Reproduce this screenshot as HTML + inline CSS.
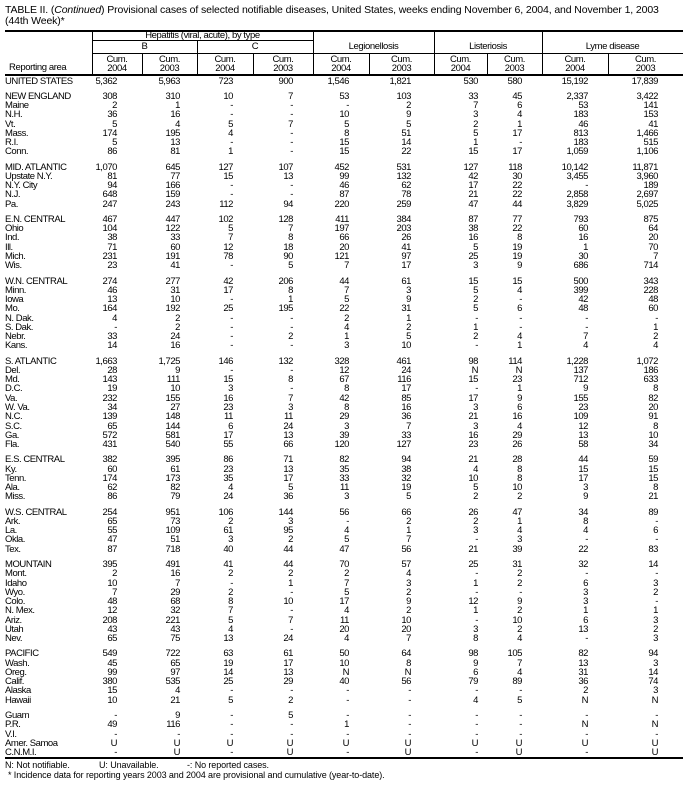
<!DOCTYPE html>
<html><head><meta charset="utf-8">
<style>
*{margin:0;padding:0;box-sizing:border-box}
body{width:695px;height:786px;background:#fff;position:relative;overflow:hidden;font-family:"Liberation Sans",Arial,sans-serif;color:#000}
.t{position:absolute;left:5px;font-size:10.5px;letter-spacing:-0.12px;white-space:nowrap;line-height:11px}
.hl{position:absolute;background:#000}
.h{position:absolute;font-size:9.5px;letter-spacing:-0.4px;text-align:center;line-height:8.5px;white-space:nowrap}
table{position:absolute;left:5px;top:76.5px;border-collapse:collapse;table-layout:fixed;font-size:9.5px;letter-spacing:-0.45px}
td{height:9.26px;line-height:9.26px;padding:0;text-align:right;white-space:nowrap;overflow:visible}
td:first-child{text-align:left;padding-left:0}
tr.s td{height:6px;line-height:6px}
col.c0{width:87px}
td:nth-child(2){padding-right:25px}
td:nth-child(3){padding-right:17px}
td:nth-child(4){padding-right:20px}
td:nth-child(5){padding-right:20px}
td:nth-child(6){padding-right:20px}
td:nth-child(7){padding-right:23px}
td:nth-child(8){padding-right:9px}
td:nth-child(9){padding-right:20px}
td:nth-child(10){padding-right:20px}
td:nth-child(11){padding-right:25px}
.f{position:absolute;font-size:9px;letter-spacing:-0.1px;white-space:nowrap;line-height:9px}
</style></head><body>
<div class="t" style="top:5px">TABLE II. (<i>Continued</i>) Provisional cases of selected notifiable diseases, United States, weeks ending November 6, 2004, and November 1, 2003</div>
<div class="t" style="top:16px">(44th Week)*</div>

<div class="hl" style="left:5px;top:30px;width:678px;height:2px"></div>
<div class="hl" style="left:92px;top:39.5px;width:221px;height:1px"></div>
<div class="hl" style="left:92px;top:52.5px;width:591px;height:1px"></div>
<div class="hl" style="left:5px;top:74px;width:678px;height:2px"></div>
<div class="hl" style="left:91.5px;top:31px;width:1.5px;height:44px"></div>
<div class="hl" style="left:312.5px;top:31px;width:1.5px;height:44px"></div>
<div class="hl" style="left:433.5px;top:31px;width:1.5px;height:44px"></div>
<div class="hl" style="left:541.5px;top:31px;width:1.5px;height:44px"></div>
<div class="hl" style="left:196.5px;top:40px;width:1.5px;height:35px"></div>
<div class="hl" style="left:141.5px;top:53px;width:1.5px;height:22px"></div>
<div class="hl" style="left:252.5px;top:53px;width:1.5px;height:22px"></div>
<div class="hl" style="left:368.5px;top:53px;width:1.5px;height:22px"></div>
<div class="hl" style="left:486.5px;top:53px;width:1.5px;height:22px"></div>
<div class="hl" style="left:607.5px;top:53px;width:1.5px;height:22px"></div>

<div class="h" style="left:92px;width:221px;top:31.5px">Hepatitis (viral, acute), by type</div>
<div class="h" style="left:92px;width:105px;top:43px">B</div>
<div class="h" style="left:197px;width:116px;top:43px">C</div>
<div class="h" style="left:313px;width:121px;top:43px">Legionellosis</div>
<div class="h" style="left:434px;width:108px;top:43px">Listeriosis</div>
<div class="h" style="left:542px;width:141px;top:43px">Lyme disease</div>
<div class="h" style="left:9px;top:64px;text-align:left">Reporting area</div>
<div class="h" style="left:92px;width:50px;top:56px">Cum.<br>2004</div>
<div class="h" style="left:142px;width:55px;top:56px">Cum.<br>2003</div>
<div class="h" style="left:197px;width:56px;top:56px">Cum.<br>2004</div>
<div class="h" style="left:253px;width:60px;top:56px">Cum.<br>2003</div>
<div class="h" style="left:313px;width:56px;top:56px">Cum.<br>2004</div>
<div class="h" style="left:369px;width:65px;top:56px">Cum.<br>2003</div>
<div class="h" style="left:434px;width:53px;top:56px">Cum.<br>2004</div>
<div class="h" style="left:487px;width:55px;top:56px">Cum.<br>2003</div>
<div class="h" style="left:542px;width:66px;top:56px">Cum.<br>2004</div>
<div class="h" style="left:608px;width:75px;top:56px">Cum.<br>2003</div>

<table>
<colgroup><col class="c0"><col style="width:50px"><col style="width:55px"><col style="width:56px"><col style="width:60px"><col style="width:56px"><col style="width:65px"><col style="width:53px"><col style="width:55px"><col style="width:66px"><col style="width:75px"></colgroup>
<tr><td>UNITED STATES<td>5,362<td>5,963<td>723<td>900<td>1,546<td>1,821<td>530<td>580<td>15,192<td>17,839</tr>
<tr class="s"><td colspan="11"></tr>
<tr><td>NEW ENGLAND<td>308<td>310<td>10<td>7<td>53<td>103<td>33<td>45<td>2,337<td>3,422</tr>
<tr><td>Maine<td>2<td>1<td>-<td>-<td>-<td>2<td>7<td>6<td>53<td>141</tr>
<tr><td>N.H.<td>36<td>16<td>-<td>-<td>10<td>9<td>3<td>4<td>183<td>153</tr>
<tr><td>Vt.<td>5<td>4<td>5<td>7<td>5<td>5<td>2<td>1<td>46<td>41</tr>
<tr><td>Mass.<td>174<td>195<td>4<td>-<td>8<td>51<td>5<td>17<td>813<td>1,466</tr>
<tr><td>R.I.<td>5<td>13<td>-<td>-<td>15<td>14<td>1<td>-<td>183<td>515</tr>
<tr><td>Conn.<td>86<td>81<td>1<td>-<td>15<td>22<td>15<td>17<td>1,059<td>1,106</tr>
<tr class="s"><td colspan="11"></tr>
<tr><td>MID. ATLANTIC<td>1,070<td>645<td>127<td>107<td>452<td>531<td>127<td>118<td>10,142<td>11,871</tr>
<tr><td>Upstate N.Y.<td>81<td>77<td>15<td>13<td>99<td>132<td>42<td>30<td>3,455<td>3,960</tr>
<tr><td>N.Y. City<td>94<td>166<td>-<td>-<td>46<td>62<td>17<td>22<td>-<td>189</tr>
<tr><td>N.J.<td>648<td>159<td>-<td>-<td>87<td>78<td>21<td>22<td>2,858<td>2,697</tr>
<tr><td>Pa.<td>247<td>243<td>112<td>94<td>220<td>259<td>47<td>44<td>3,829<td>5,025</tr>
<tr class="s"><td colspan="11"></tr>
<tr><td>E.N. CENTRAL<td>467<td>447<td>102<td>128<td>411<td>384<td>87<td>77<td>793<td>875</tr>
<tr><td>Ohio<td>104<td>122<td>5<td>7<td>197<td>203<td>38<td>22<td>60<td>64</tr>
<tr><td>Ind.<td>38<td>33<td>7<td>8<td>66<td>26<td>16<td>8<td>16<td>20</tr>
<tr><td>Ill.<td>71<td>60<td>12<td>18<td>20<td>41<td>5<td>19<td>1<td>70</tr>
<tr><td>Mich.<td>231<td>191<td>78<td>90<td>121<td>97<td>25<td>19<td>30<td>7</tr>
<tr><td>Wis.<td>23<td>41<td>-<td>5<td>7<td>17<td>3<td>9<td>686<td>714</tr>
<tr class="s"><td colspan="11"></tr>
<tr><td>W.N. CENTRAL<td>274<td>277<td>42<td>206<td>44<td>61<td>15<td>15<td>500<td>343</tr>
<tr><td>Minn.<td>46<td>31<td>17<td>8<td>7<td>3<td>5<td>4<td>399<td>228</tr>
<tr><td>Iowa<td>13<td>10<td>-<td>1<td>5<td>9<td>2<td>-<td>42<td>48</tr>
<tr><td>Mo.<td>164<td>192<td>25<td>195<td>22<td>31<td>5<td>6<td>48<td>60</tr>
<tr><td>N. Dak.<td>4<td>2<td>-<td>-<td>2<td>1<td>-<td>-<td>-<td>-</tr>
<tr><td>S. Dak.<td>-<td>2<td>-<td>-<td>4<td>2<td>1<td>-<td>-<td>1</tr>
<tr><td>Nebr.<td>33<td>24<td>-<td>2<td>1<td>5<td>2<td>4<td>7<td>2</tr>
<tr><td>Kans.<td>14<td>16<td>-<td>-<td>3<td>10<td>-<td>1<td>4<td>4</tr>
<tr class="s"><td colspan="11"></tr>
<tr><td>S. ATLANTIC<td>1,663<td>1,725<td>146<td>132<td>328<td>461<td>98<td>114<td>1,228<td>1,072</tr>
<tr><td>Del.<td>28<td>9<td>-<td>-<td>12<td>24<td>N<td>N<td>137<td>186</tr>
<tr><td>Md.<td>143<td>111<td>15<td>8<td>67<td>116<td>15<td>23<td>712<td>633</tr>
<tr><td>D.C.<td>19<td>10<td>3<td>-<td>8<td>17<td>-<td>1<td>9<td>8</tr>
<tr><td>Va.<td>232<td>155<td>16<td>7<td>42<td>85<td>17<td>9<td>155<td>82</tr>
<tr><td>W. Va.<td>34<td>27<td>23<td>3<td>8<td>16<td>3<td>6<td>23<td>20</tr>
<tr><td>N.C.<td>139<td>148<td>11<td>11<td>29<td>36<td>21<td>16<td>109<td>91</tr>
<tr><td>S.C.<td>65<td>144<td>6<td>24<td>3<td>7<td>3<td>4<td>12<td>8</tr>
<tr><td>Ga.<td>572<td>581<td>17<td>13<td>39<td>33<td>16<td>29<td>13<td>10</tr>
<tr><td>Fla.<td>431<td>540<td>55<td>66<td>120<td>127<td>23<td>26<td>58<td>34</tr>
<tr class="s"><td colspan="11"></tr>
<tr><td>E.S. CENTRAL<td>382<td>395<td>86<td>71<td>82<td>94<td>21<td>28<td>44<td>59</tr>
<tr><td>Ky.<td>60<td>61<td>23<td>13<td>35<td>38<td>4<td>8<td>15<td>15</tr>
<tr><td>Tenn.<td>174<td>173<td>35<td>17<td>33<td>32<td>10<td>8<td>17<td>15</tr>
<tr><td>Ala.<td>62<td>82<td>4<td>5<td>11<td>19<td>5<td>10<td>3<td>8</tr>
<tr><td>Miss.<td>86<td>79<td>24<td>36<td>3<td>5<td>2<td>2<td>9<td>21</tr>
<tr class="s"><td colspan="11"></tr>
<tr><td>W.S. CENTRAL<td>254<td>951<td>106<td>144<td>56<td>66<td>26<td>47<td>34<td>89</tr>
<tr><td>Ark.<td>65<td>73<td>2<td>3<td>-<td>2<td>2<td>1<td>8<td>-</tr>
<tr><td>La.<td>55<td>109<td>61<td>95<td>4<td>1<td>3<td>4<td>4<td>6</tr>
<tr><td>Okla.<td>47<td>51<td>3<td>2<td>5<td>7<td>-<td>3<td>-<td>-</tr>
<tr><td>Tex.<td>87<td>718<td>40<td>44<td>47<td>56<td>21<td>39<td>22<td>83</tr>
<tr class="s"><td colspan="11"></tr>
<tr><td>MOUNTAIN<td>395<td>491<td>41<td>44<td>70<td>57<td>25<td>31<td>32<td>14</tr>
<tr><td>Mont.<td>2<td>16<td>2<td>2<td>2<td>4<td>-<td>2<td>-<td>-</tr>
<tr><td>Idaho<td>10<td>7<td>-<td>1<td>7<td>3<td>1<td>2<td>6<td>3</tr>
<tr><td>Wyo.<td>7<td>29<td>2<td>-<td>5<td>2<td>-<td>-<td>3<td>2</tr>
<tr><td>Colo.<td>48<td>68<td>8<td>10<td>17<td>9<td>12<td>9<td>3<td>-</tr>
<tr><td>N. Mex.<td>12<td>32<td>7<td>-<td>4<td>2<td>1<td>2<td>1<td>1</tr>
<tr><td>Ariz.<td>208<td>221<td>5<td>7<td>11<td>10<td>-<td>10<td>6<td>3</tr>
<tr><td>Utah<td>43<td>43<td>4<td>-<td>20<td>20<td>3<td>2<td>13<td>2</tr>
<tr><td>Nev.<td>65<td>75<td>13<td>24<td>4<td>7<td>8<td>4<td>-<td>3</tr>
<tr class="s"><td colspan="11"></tr>
<tr><td>PACIFIC<td>549<td>722<td>63<td>61<td>50<td>64<td>98<td>105<td>82<td>94</tr>
<tr><td>Wash.<td>45<td>65<td>19<td>17<td>10<td>8<td>9<td>7<td>13<td>3</tr>
<tr><td>Oreg.<td>99<td>97<td>14<td>13<td>N<td>N<td>6<td>4<td>31<td>14</tr>
<tr><td>Calif.<td>380<td>535<td>25<td>29<td>40<td>56<td>79<td>89<td>36<td>74</tr>
<tr><td>Alaska<td>15<td>4<td>-<td>-<td>-<td>-<td>-<td>-<td>2<td>3</tr>
<tr><td>Hawaii<td>10<td>21<td>5<td>2<td>-<td>-<td>4<td>5<td>N<td>N</tr>
<tr class="s"><td colspan="11"></tr>
<tr><td>Guam<td>-<td>9<td>-<td>5<td>-<td>-<td>-<td>-<td>-<td>-</tr>
<tr><td>P.R.<td>49<td>116<td>-<td>-<td>1<td>-<td>-<td>-<td>N<td>N</tr>
<tr><td>V.I.<td>-<td>-<td>-<td>-<td>-<td>-<td>-<td>-<td>-<td>-</tr>
<tr><td>Amer. Samoa<td>U<td>U<td>U<td>U<td>U<td>U<td>U<td>U<td>U<td>U</tr>
<tr><td>C.N.M.I.<td>-<td>U<td>-<td>U<td>-<td>U<td>-<td>U<td>-<td>U</tr>
</table>

<div class="hl" style="left:5px;top:757px;width:678px;height:2px"></div>
<div class="f" style="left:5px;top:761px">N: Not notifiable.</div>
<div class="f" style="left:99px;top:761px">U: Unavailable.</div>
<div class="f" style="left:187px;top:761px">-: No reported cases.</div>
<div class="f" style="left:8px;top:771px">* Incidence data for reporting years 2003 and 2004 are provisional and cumulative (year-to-date).</div>
</body></html>
